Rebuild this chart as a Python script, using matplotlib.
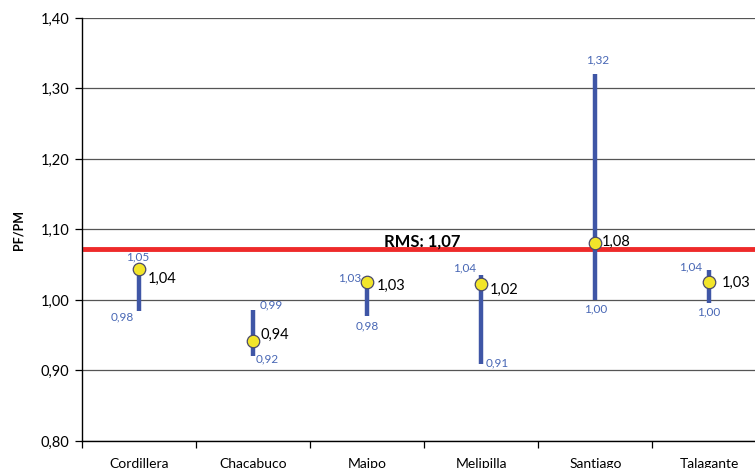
import matplotlib.pyplot as plt
from matplotlib.ticker import FixedLocator, FuncFormatter, MultipleLocator

plt.rcParams["font.family"] = ["Lato", "DejaVu Sans"]

# provinces and PF/PM ratios
provincias = ["Cordillera", "Chacabuco", "Maipo", "Melipilla", "Santiago", "Talagante"]
valor = [1.044, 0.942, 1.026, 1.022, 1.081, 1.026]
minimo = [0.984, 0.921, 0.978, 0.909, 1.000, 0.996]
maximo = [1.049, 0.986, 1.030, 1.036, 1.320, 1.043]
rms = 1.072

# label offsets in pixels (dx, dy, ha)
off_max = [(-1, 9, "center"), (7, 5, "left"), (-17, 1, "center"),
           (-17, 7, "center"), (2, 14, "center"), (-19, 3, "center")]
off_min = [(-17, -6, "center"), (3, -3, "left"), (0, -10, "center"),
           (4, 1, "left"), (0, -9, "center"), (-1, -9, "center")]
off_val = [(9, -10), (7, 6), (10, -4), (9, -5), (6, 1), (12, -1)]


def coma(v, pos=None):
    return f"{v:.2f}".replace(".", ",")


azul = "#3F56A6"
azul_txt = "#4766B4"

fig = plt.figure(figsize=(7.55, 4.68), dpi=100)
ax = fig.add_axes([82 / 755, 1 - 441 / 468, 1 - 82 / 755, (441 - 18) / 468])

x = list(range(len(provincias)))
ax.vlines(x, minimo, maximo, color=azul, lw=3.2, zorder=3)
ax.axhline(rms, xmin=0.005, color="#EE2A2A", lw=3.5, zorder=2)
ax.plot(x, valor, "o", ms=9, mfc="#F2E52A", mec="#4A4A6A", mew=0.9, zorder=4)

for i in x:
    dx, dy, ha = off_max[i]
    ax.annotate(coma(maximo[i]), (i, maximo[i]), xytext=(dx, dy), textcoords="offset pixels",
                ha=ha, va="center", fontsize=8.5, color=azul_txt)
    dx, dy, ha = off_min[i]
    ax.annotate(coma(minimo[i]), (i, minimo[i]), xytext=(dx, dy), textcoords="offset pixels",
                ha=ha, va="center", fontsize=8.5, color=azul_txt)
    dx, dy = off_val[i]
    ax.annotate(coma(valor[i]), (i, valor[i]), xytext=(dx, dy), textcoords="offset pixels",
                ha="left", va="center", fontsize=10.5, color="black")

ax.text(2.48, rms, "RMS: " + coma(rms), ha="center", va="bottom", fontsize=12,
        fontweight="bold")

ax.set_xlim(-0.5, 5.4)
ax.set_ylim(0.80, 1.40)
ax.yaxis.set_major_locator(MultipleLocator(0.10))
ax.yaxis.set_major_formatter(FuncFormatter(coma))
ax.grid(axis="y", color="#555555", lw=0.9)
ax.set_axisbelow(True)

ax.set_xticks(x)
ax.set_xticklabels(provincias, fontsize=10)
ax.xaxis.set_minor_locator(FixedLocator([i - 0.5 for i in range(7)]))
ax.tick_params(axis="x", which="major", length=0, pad=12)
ax.tick_params(axis="x", which="minor", length=5, width=0.9, direction="out")
ax.tick_params(axis="y", length=5, width=0.9, labelsize=10.5, pad=4)

for s in ["top", "right"]:
    ax.spines[s].set_visible(False)
for s in ["left", "bottom"]:
    ax.spines[s].set_linewidth(1.0)
    ax.spines[s].set_color("black")

ax.set_ylabel("PF/PM", fontsize=9, fontweight="bold", labelpad=12)

fig.savefig("out.png", dpi=100)
